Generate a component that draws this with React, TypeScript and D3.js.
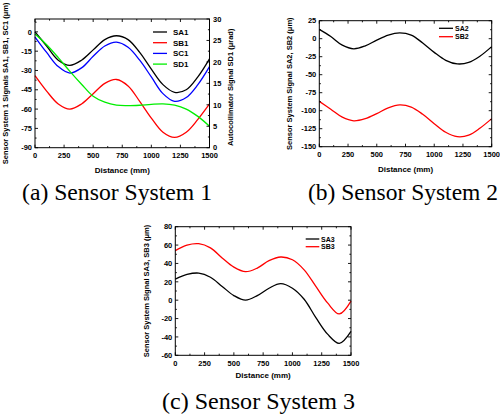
import React from "react";
import * as d3 from "d3";

// ---------- data ----------
const distance = [0, 100, 200, 300, 400, 500, 600, 700, 800, 900, 1000, 1100, 1200, 1300, 1400, 1500];

// Panel (a) Sensor System 1 (μm, left axis)
const SA1 = [0, -11, -22, -26, -22, -14, -6, -3, -6, -16, -29, -41, -47, -45, -35, -21];
const SB1 = [-34, -46, -56, -60, -56, -48, -40, -37, -42, -54, -67, -78, -82, -78, -68, -56];
const SC1 = [-4, -16, -27, -32, -28, -19, -11, -8, -12, -22, -35, -48, -54, -51, -41, -27];
// SD1 (μrad, right axis)
const SD1 = [26.5, 24.0, 21.0, 17.8, 14.8, 12.0, 10.6, 9.9, 9.8, 9.9, 10.1, 10.2, 9.9, 9.0, 7.3, 5.0];

// Panel (b) Sensor System 2
const SA2 = [13, 3, -9, -14, -10, -2, 5, 8, 5, -6, -19, -30, -35, -33, -24, -11];
const SB2 = [-87, -98, -109, -114, -111, -104, -96, -92, -95, -105, -118, -130, -136, -134, -124, -111];

// Panel (c) Sensor System 3
const SA3 = [23, 28, 29.5, 25, 15, 5, 0, 5, 13, 18, 13, 1, -19, -37, -47, -34];
const SB3 = [54, 60, 61.5, 57, 46, 36, 31, 35, 43, 47, 44, 33, 15, -3, -15, -1];

const xTicks = [0, 250, 500, 750, 1000, 1250, 1500];
const yTicksA = [-90, -75, -60, -45, -30, -15, 0];
const yTicksARight = [0, 5, 10, 15, 20, 25, 30];
const yTicksB = [-150, -125, -100, -75, -50, -25, 0, 25];
const yTicksC = [-60, -40, -20, 0, 20, 40, 60, 80];

const FONT = "Liberation Sans, Arial, sans-serif";
const SERIF = "Liberation Serif, DejaVu Serif, Times New Roman, serif";

type Series = { name: string; values: number[]; color: string; right?: boolean };

type PanelProps = {
  left: number; right: number; top: number; bottom: number;
  yDomain: [number, number]; yTicks: number[]; yMinorStep: number;
  yRightDomain?: [number, number]; yRightTicks?: number[]; yRightMinorStep?: number;
  series: Series[];
  yLabel: string; yLabelX: number; yLabelFs?: number;
  yRightLabel?: string; yRightLabelX?: number;
  legend: { x1: number; x2: number; tx: number; y0: number; dy: number; fs: number };
  xLabelY: number;
};

function Panel(p: PanelProps) {
  const x = d3.scaleLinear().domain([0, 1500]).range([p.left, p.right]);
  const y = d3.scaleLinear().domain(p.yDomain).range([p.bottom, p.top]);
  const yR = p.yRightDomain ? d3.scaleLinear().domain(p.yRightDomain).range([p.bottom, p.top]) : null;
  const major = 3, minor = 1.6;
  const tfs = 7.5;

  const xMinor = d3.range(0, 1500 + 1, 125);
  const yMinor = d3.range(p.yDomain[0], p.yDomain[1] + 0.001, p.yMinorStep);
  const yRMinor = yR && p.yRightMinorStep ? d3.range(p.yRightDomain![0], p.yRightDomain![1] + 0.001, p.yRightMinorStep) : [];

  const tickEls: React.ReactNode[] = [];
  xMinor.forEach((v, i) => {
    const L = v % 250 === 0 ? major : minor;
    const xx = x(v);
    tickEls.push(<line key={"xb" + i} x1={xx} x2={xx} y1={p.bottom} y2={p.bottom - L} stroke="#000" strokeWidth={0.9} />);
    tickEls.push(<line key={"xt" + i} x1={xx} x2={xx} y1={p.top} y2={p.top + L} stroke="#000" strokeWidth={0.9} />);
  });
  const isMajorY = (v: number, ticks: number[]) => ticks.some(t => Math.abs(t - v) < 1e-6);
  yMinor.forEach((v, i) => {
    const L = isMajorY(v, p.yTicks) ? major : minor;
    const yy = y(v);
    tickEls.push(<line key={"yl" + i} x1={p.left} x2={p.left + L} y1={yy} y2={yy} stroke="#000" strokeWidth={0.9} />);
    if (!yR) tickEls.push(<line key={"yr" + i} x1={p.right} x2={p.right - L} y1={yy} y2={yy} stroke="#000" strokeWidth={0.9} />);
  });
  if (yR) {
    yRMinor.forEach((v, i) => {
      const L = isMajorY(v, p.yRightTicks!) ? major : minor;
      const yy = yR(v);
      tickEls.push(<line key={"yR" + i} x1={p.right} x2={p.right - L} y1={yy} y2={yy} stroke="#000" strokeWidth={0.9} />);
    });
  }

  const line = (s: Series) => {
    const sc = s.right && yR ? yR : y;
    const gen = d3.line<number>()
      .x((_, i) => x(distance[i]))
      .y(v => sc(v))
      .curve(d3.curveCatmullRom.alpha(0.5));
    return gen(s.values) || "";
  };

  const cy = (p.top + p.bottom) / 2;
  const cx = (p.left + p.right) / 2;

  return (
    <g>
      {p.series.map(s => (
        <path key={s.name} d={line(s)} fill="none" stroke={s.color} strokeWidth={1.3} />
      ))}
      <rect x={p.left} y={p.top} width={p.right - p.left} height={p.bottom - p.top} fill="none" stroke="#000" strokeWidth={1} />
      {tickEls}
      {xTicks.map(v => (
        <text key={"xl" + v} x={x(v)} y={p.bottom + 10.3} textAnchor="middle" fontFamily={FONT} fontWeight="bold" fontSize={tfs}>{v}</text>
      ))}
      {p.yTicks.map(v => (
        <text key={"yll" + v} x={p.left - 3} y={y(v) + 2.7} textAnchor="end" fontFamily={FONT} fontWeight="bold" fontSize={tfs}>{v}</text>
      ))}
      {yR && p.yRightTicks!.map(v => (
        <text key={"yrl" + v} x={p.right + 3.5} y={yR(v) + (v === 0 ? 1.8 : 2.7)} textAnchor="start" fontFamily={FONT} fontWeight="bold" fontSize={tfs}>{v}</text>
      ))}
      <text x={cx} y={p.xLabelY} textAnchor="middle" fontFamily={FONT} fontWeight="bold" fontSize={8}>Distance (mm)</text>
      <text transform={`translate(${p.yLabelX},${cy}) rotate(-90)`} textAnchor="middle" fontFamily={FONT} fontWeight="bold" fontSize={p.yLabelFs ?? 7.5}>{p.yLabel}</text>
      {p.yRightLabel && (
        <text transform={`translate(${p.yRightLabelX},${cy + 4}) rotate(-90)`} textAnchor="middle" fontFamily={FONT} fontWeight="bold" fontSize={7.5}>{p.yRightLabel}</text>
      )}
      {p.series.map((s, i) => {
        const ly = p.legend.y0 + i * p.legend.dy;
        return (
          <g key={"lg" + s.name}>
            <line x1={p.legend.x1} x2={p.legend.x2} y1={ly} y2={ly} stroke={s.color} strokeWidth={1.3} />
            <text x={p.legend.tx} y={ly + p.legend.fs * 0.36} fontFamily={FONT} fontWeight="bold" fontSize={p.legend.fs}>{s.name}</text>
          </g>
        );
      })}
    </g>
  );
}

export default function App() {
  return (
    <svg width={500} height={416} style={{ position: "absolute", left: 0, top: 0, background: "#fff" }}>
      <rect x={0} y={0} width={500} height={416} fill="#fff" />
      <Panel
        left={35} right={209.5} top={19} bottom={147.7}
        yDomain={[-90, 10]} yTicks={yTicksA} yMinorStep={7.5}
        yRightDomain={[0, 30]} yRightTicks={yTicksARight} yRightMinorStep={2.5}
        series={[
          { name: "SA1", values: SA1, color: "#000000" },
          { name: "SB1", values: SB1, color: "#ff0000" },
          { name: "SC1", values: SC1, color: "#0000ff" },
          { name: "SD1", values: SD1, color: "#00ee00", right: true },
        ]}
        yLabel="Sensor System 1 Signals SA1, SB1, SC1 (μm)" yLabelX={8} yLabelFs={7.5}
        yRightLabel="Autocollimator Signal SD1 (μrad)" yRightLabelX={233}
        legend={{ x1: 153, x2: 167, tx: 173, y0: 32, dy: 10.7, fs: 8 }}
        xLabelY={173}
      />
      <Panel
        left={319.3} right={491.7} top={20.7} bottom={146.7}
        yDomain={[-150, 25]} yTicks={yTicksB} yMinorStep={12.5}
        series={[
          { name: "SA2", values: SA2, color: "#000000" },
          { name: "SB2", values: SB2, color: "#ff0000" },
        ]}
        yLabel="Sensor System Signal SA2, SB2 (μm)" yLabelX={292}
        legend={{ x1: 439, x2: 453, tx: 455, y0: 28.3, dy: 8.4, fs: 7 }}
        xLabelY={172}
      />
      <Panel
        left={175.3} right={351} top={226.7} bottom={355.3}
        yDomain={[-60, 80]} yTicks={yTicksC} yMinorStep={10}
        series={[
          { name: "SA3", values: SA3, color: "#000000" },
          { name: "SB3", values: SB3, color: "#ff0000" },
        ]}
        yLabel="Sensor System Signal SA3, SB3 (μm)" yLabelX={149}
        legend={{ x1: 305.7, x2: 319.3, tx: 321, y0: 239, dy: 7.7, fs: 7 }}
        xLabelY={378}
      />
      <text x={22} y={200} fontFamily={SERIF} fontSize={23.5} textLength={190} lengthAdjust="spacingAndGlyphs">(a) Sensor System 1</text>
      <text x={308} y={200} fontFamily={SERIF} fontSize={23.5} textLength={190} lengthAdjust="spacingAndGlyphs">(b) Sensor System 2</text>
      <text x={162} y={409} fontFamily={SERIF} fontSize={23.5} textLength={193} lengthAdjust="spacingAndGlyphs">(c) Sensor System 3</text>
    </svg>
  );
}
